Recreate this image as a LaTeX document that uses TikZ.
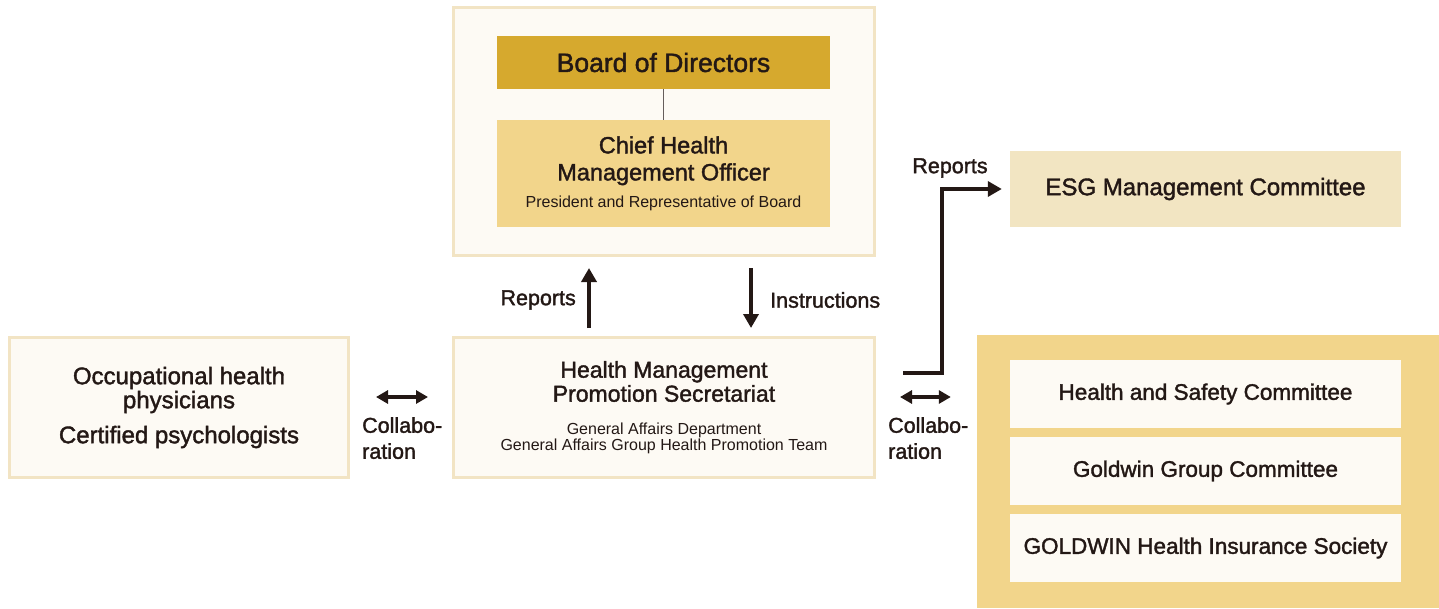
\documentclass[tikz,border=0pt]{standalone}
\usepackage{fontspec}
\setmainfont{Liberation Sans}[BoldFont={Liberation Sans}, BoldFeatures={FakeBold=1.6}]
\usepackage{xcolor}
\usepackage{tikz}
\usetikzlibrary{arrows.meta,positioning,calc}

\definecolor{ink}{HTML}{231815}
\definecolor{cream}{HTML}{FDFAF4}
\definecolor{creamline}{HTML}{F2E4C4}
\definecolor{gold}{HTML}{D6A92E}
\definecolor{sand}{HTML}{F2D58B}
\definecolor{beige}{HTML}{F2E5C2}

\newcommand{\subtxt}[1]{{\mdseries\fontsize{16}{18}\selectfont #1}}

\begin{document}
\begin{tikzpicture}[x=1pt, y=-1pt,
    every node/.style={text=ink, inner sep=0pt, align=center},
    title/.style={font=\bfseries\fontsize{22.5}{25}\selectfont},
    tag/.style={font=\bfseries\fontsize{21.5}{26}\selectfont},
    framebox/.style={draw=creamline, line width=3pt, fill=cream},
    flow/.style={draw=ink, line width=3.5pt, -{Triangle[length=14pt, width=15pt]}},
    collab/.style={draw=ink, line width=3.5pt, {Triangle[length=12pt, width=13pt]}-{Triangle[length=12pt, width=13pt]}}]
    \useasboundingbox (0,0) rectangle (1439,608);

    % top block
    \node (topframe) [framebox, minimum width=421pt, minimum height=248pt] at (664,131.5) {};
    \node (board) [fill=gold, minimum width=333pt, minimum height=53pt, font=\bfseries\fontsize{26.5}{30}\selectfont] at (663.5,62.5) {Board of Directors};
    \node (chief) [fill=sand, minimum width=333pt, minimum height=107pt, font=\bfseries\fontsize{23.5}{27}\selectfont] at (663.5,173.5) {Chief Health\\Management Officer\\\subtxt{President and Representative of Board}};
    \draw[draw=ink!70, line width=1.5pt] (board) -- (chief);

    % middle row
    \node (sec) [framebox, minimum width=421pt, minimum height=140pt, font=\bfseries\fontsize{23}{24}\selectfont] at (664,407.5) {Health Management\\Promotion Secretariat\\[9pt]\subtxt{General Affairs Department}\\[-8pt]\subtxt{General Affairs Group Health Promotion Team}};
    \node (doctors) [framebox, minimum width=339pt, minimum height=140pt, font=\bfseries\fontsize{24}{24}\selectfont] at (179,407.5) {Occupational health\\physicians\\[11pt]Certified psychologists};

    % right side
    \node (esg) [fill=beige, minimum width=391pt, minimum height=76pt, font=\bfseries\fontsize{24}{26}\selectfont] at (1205.5,189) {ESG Management Committee};
    \node (grp) [fill=sand, minimum width=462pt, minimum height=273pt] at (1208,471.5) {};
    \node (safety) [fill=cream, minimum width=391pt, minimum height=68pt, title] at (1205.5,394) {Health and Safety Committee};
    \node (group) [fill=cream, minimum width=391pt, minimum height=68pt, title] at (1205.5,471) {Goldwin Group Committee};
    \node (kenpo) [fill=cream, minimum width=391pt, minimum height=68pt, title] at (1205.5,548) {GOLDWIN Health Insurance Society};

    % connectors
    \draw[flow, shorten <=8pt, shorten >=11pt] ([xshift=-75pt]sec.north) -- ([xshift=-75pt]topframe.south);
    \draw[flow, shorten <=11pt, shorten >=8pt] ([xshift=87pt]topframe.south) -- ([xshift=87pt]sec.north);
    \node (rep1) [tag, anchor=east] at (576,300) {Reports};
    \node (inst) [tag, anchor=west] at (770,300) {Instructions};

    \draw[collab, shorten <=26pt, shorten >=24pt] ([yshift=10.5pt]doctors.east) -- ([yshift=10.5pt]sec.west);
    \draw[collab, shorten <=24pt, shorten >=26pt] ([yshift=10.5pt]sec.east) -- ([yshift=10.5pt]sec.east -| grp.west);
    \node (collab1) [tag, anchor=north west, align=left] at (362,417) {Collabo-\\ration};
    \node (collab2) [tag, anchor=north west, align=left] at (888,417) {Collabo-\\ration};

    \draw[flow, shorten >=8pt] ($(sec.east)+(27,-34.5)$) -- ++(39,0) |- (esg.west);
    \node (rep2) [tag] at (950,168) {Reports};
\end{tikzpicture}
\end{document}
